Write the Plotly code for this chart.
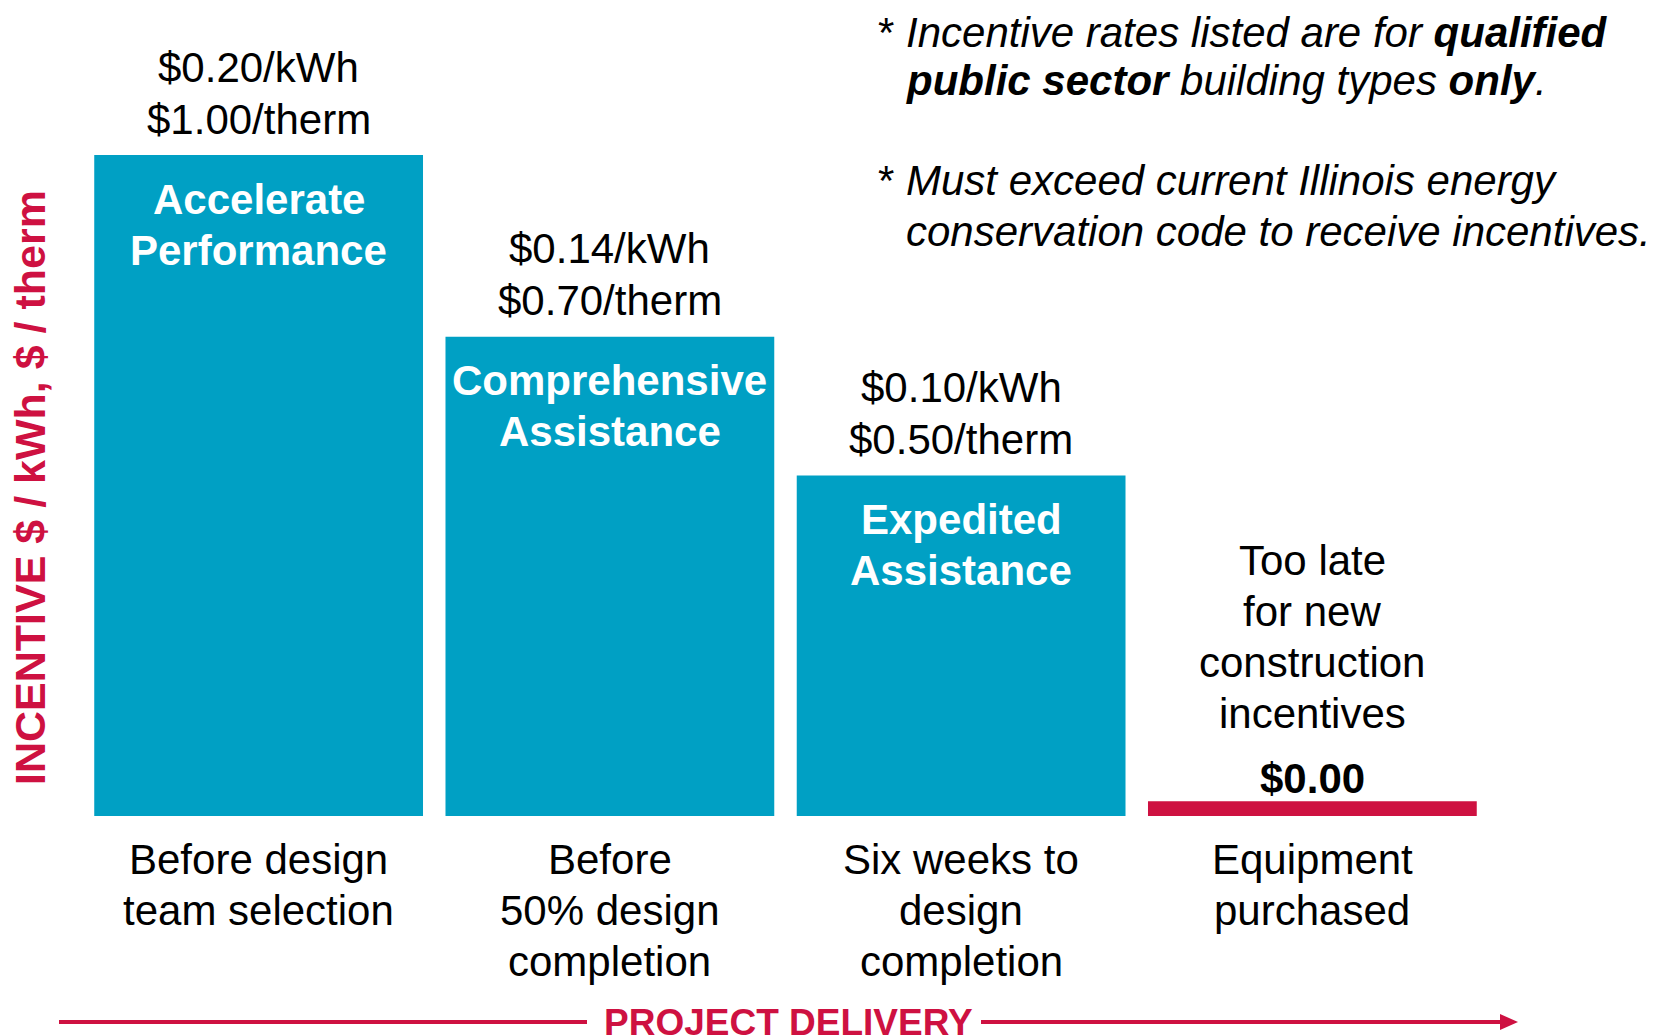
import plotly.graph_objects as go

# ---- data ----
phases = ["Before design<br>team selection",
          "Before<br>50% design<br>completion",
          "Six weeks to<br>design<br>completion",
          "Equipment<br>purchased"]
programs = ["Accelerate<br>Performance", "Comprehensive<br>Assistance",
            "Expedited<br>Assistance", ""]
bar_heights = [0.20, 0.145, 0.103, 0.0045]   # relative visual heights
kwh_rates = ["$0.20/kWh", "$0.14/kWh", "$0.10/kWh", None]
therm_rates = ["$1.00/therm", "$0.70/therm", "$0.50/therm", None]
too_late_text = ["Too late", "for new", "construction", "incentives"]
zero_label = "$0.00"
footnotes = [
    ("* ", "<i>Incentive rates listed are for <b>qualified</b></i>"),
    ("", "<i><b>public sector</b> building types <b>only</b>.</i>"),
    ("* ", "<i>Must exceed current Illinois energy</i>"),
    ("", "<i>conservation code to receive incentives.</i>"),
]
y_title = "INCENTIVE $ / kWh, $ / therm"
x_title = "PROJECT DELIVERY"

TEAL = "#00A0C4"
RED = "#CE1141"
FONT = "Liberation Sans, Arial, Helvetica, sans-serif"
FS = 42

OFF = 8  # page body margin of the html page
W, H = 1671, 1036
L = 83 - OFF
T = 0
PLOT_RIGHT = 1488 - OFF
PLOT_BOTTOM = 816 - OFF
R = W - PLOT_RIGHT
B = H - PLOT_BOTTOM
PW, PH = W - L - R, H - T - B


def px(x):
    return (x - OFF - L) / PW


def py(y):
    return (PLOT_BOTTOM - (y - OFF)) / PH


x_idx = list(range(len(phases)))
colors = [TEAL, TEAL, TEAL, RED]

fig = go.Figure(go.Bar(
    x=x_idx, y=bar_heights, marker=dict(color=colors, line=dict(width=0)),
    width=0.936, hoverinfo="skip"))

ymax = bar_heights[0] * PH / 661.0
anns = []


def add_lines(i, yval, lines, shift0, step, color, bold=False):
    for k, ln in enumerate(lines):
        txt = f"<b>{ln}</b>" if bold else ln
        anns.append(dict(x=i, y=yval, xref="x", yref="y", text=txt,
                         showarrow=False, yanchor="middle", xanchor="center",
                         yshift=shift0 + k * step,
                         font=dict(family=FONT, size=FS, color=color)))


for i in x_idx:
    h = bar_heights[i]
    if kwh_rates[i]:
        add_lines(i, h, [kwh_rates[i], therm_rates[i]], 88, -52, "black")
    if programs[i]:
        add_lines(i, h, programs[i].split("<br>"), -44, -51, "white", bold=True)
    add_lines(i, 0, phases[i].split("<br>"), -43, -51, "black")

add_lines(3, 0, too_late_text, 256, -51, "black")
add_lines(3, 0, [zero_label], 38, 0, "black", bold=True)

# footnotes (top right)
fn_y = [32, 81, 181, 231]
for (star, txt), yy in zip(footnotes, fn_y):
    if star:
        anns.append(dict(x=px(876), y=py(yy), xref="paper", yref="paper",
                         text="*", showarrow=False, xanchor="left",
                         yanchor="middle",
                         font=dict(family=FONT, size=FS, color="black")))
    anns.append(dict(x=px(904), y=py(yy), xref="paper", yref="paper",
                     text=txt, showarrow=False, xanchor="left",
                     yanchor="middle",
                     font=dict(family=FONT, size=FS, color="black")))

# y-axis title
anns.append(dict(x=px(30), y=py(488), xref="paper", yref="paper",
                 text=f"<b>{y_title}</b>", textangle=-90, showarrow=False,
                 xanchor="center", yanchor="middle",
                 font=dict(family=FONT, size=43, color=RED)))

# x-axis title
anns.append(dict(x=px(788), y=py(1023), xref="paper", yref="paper",
                 text=f"<b>{x_title}</b>", showarrow=False,
                 xanchor="center", yanchor="middle",
                 font=dict(family=FONT, size=37, color=RED)))

shapes = [
    dict(type="line", xref="paper", yref="paper", x0=px(59), x1=px(587),
         y0=py(1022), y1=py(1022), line=dict(color=RED, width=4)),
    dict(type="line", xref="paper", yref="paper", x0=px(981), x1=px(1502),
         y0=py(1022), y1=py(1022), line=dict(color=RED, width=4)),
    dict(type="path", xref="paper", yref="paper",
         path=f"M {px(1500)} {py(1014)} L {px(1518)} {py(1022)} "
              f"L {px(1500)} {py(1030)} Z",
         fillcolor=RED, line=dict(color=RED, width=0)),
]

fig.update_layout(
    width=W, height=H,
    margin=dict(l=L, r=R, t=T, b=B, pad=0),
    paper_bgcolor="white", plot_bgcolor="white",
    showlegend=False, hovermode=False,
    xaxis=dict(range=[-0.5, 3.5], visible=False, fixedrange=True),
    yaxis=dict(range=[0, ymax], visible=False, fixedrange=True),
    annotations=anns, shapes=shapes,
    font=dict(family=FONT),
)

fig.write_html("out.html")
